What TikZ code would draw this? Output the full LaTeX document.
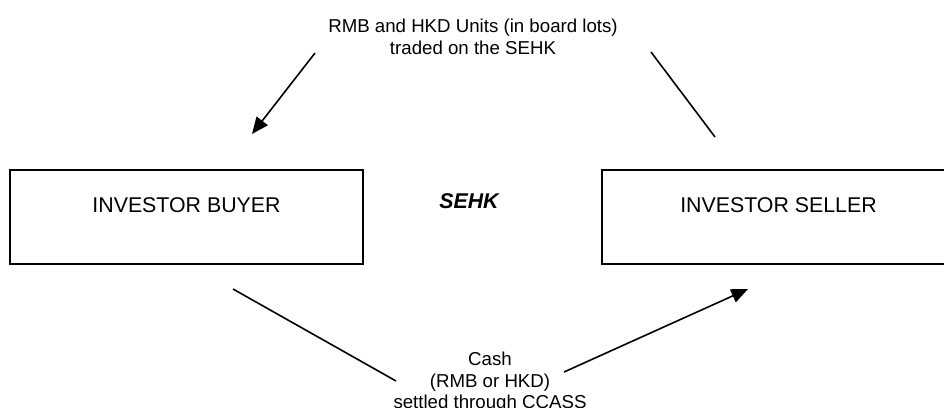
\documentclass[tikz,border=0pt]{standalone}
\usepackage{fontspec}
\setmainfont{Liberation Sans}
\usepackage{tikz}
\usetikzlibrary{positioning}
\usetikzlibrary{arrows.meta}
\tikzset{flow/.style = {->,> = {Triangle[length=12.5pt,width=10.5pt]}}}

\begin{document}
\begin{tikzpicture}[x=0.75pt,y=-0.75pt,line width=1.2pt,
    party node/.style={rectangle,draw,line width=1.3pt,inner sep=0pt,outer sep=0pt,minimum width=264.75pt,minimum height=70.5pt,text height=11.5pt,text depth=19pt,font=\fontsize{16}{19}\selectfont},
    flow label/.style={align=center,inner sep=0pt,anchor=north,font=\fontsize{14}{16}\selectfont}]
                \useasboundingbox (0,0) rectangle (944,407);
                \node[party node] (buyer) at (186.5,217) {INVESTOR BUYER};
                \node[party node] (seller) [right=179.25pt of buyer] {INVESTOR SELLER};
                \node[anchor=base,inner sep=0pt,font=\fontsize{16}{19}\selectfont\bfseries\itshape] (sehk) at (469,208) {SEHK};
                \node[flow label] (units) at (473,18.5) {RMB and HKD Units (in board lots)\\traded on the SEHK};
                \node[flow label] (cash) at (490,351.5) {Cash\\(RMB or HKD)\\settled through CCASS};

                \coordinate (units from) at (651,52);
                \coordinate (units mid) at (715,137);
                \coordinate (units to) at (252,134);
                \coordinate (units start) at (315,53);
                \coordinate (cash from) at (233,289);
                \coordinate (cash mid) at (396,381);
                \coordinate (cash start) at (564,372);
                \coordinate (cash to) at (748,289);

                \path
                    (units start) edge[flow] (units to)
                    (units from) edge (units mid)
                    (cash from) edge (cash mid)
                    (cash start) edge[flow] (cash to)
                    ;
            \end{tikzpicture}
\end{document}
